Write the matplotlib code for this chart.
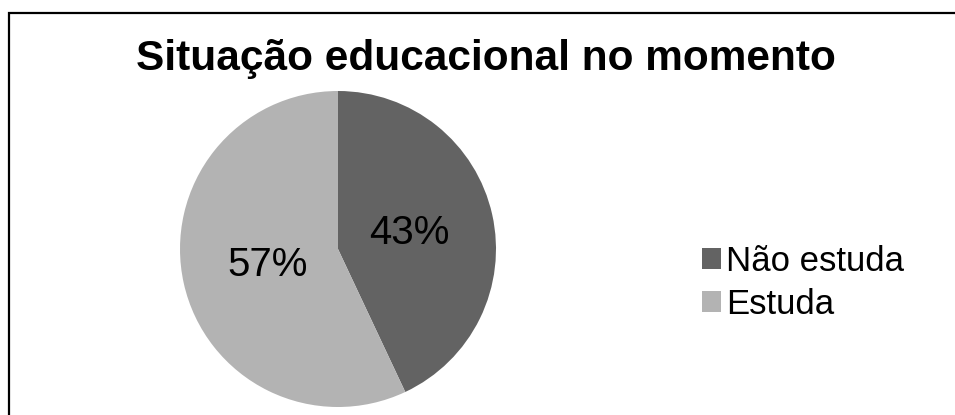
import matplotlib
matplotlib.use('Agg')
import matplotlib.pyplot as plt
from matplotlib.patches import Rectangle

plt.rcParams['font.family'] = ['Liberation Sans', 'DejaVu Sans']

categorias = ['Não estuda', 'Estuda']
percentuais = [43, 57]
cores = ['#636363', '#b3b3b3']
titulo = 'Situação educacional no momento'

W, H = 955, 415
fig = plt.figure(figsize=(W / 100, H / 100), dpi=100)

# moldura do gráfico (cortada à direita e embaixo)
fig.patches.append(Rectangle((8.5 / W, -0.1), 1.1, 1 - 13.5 / H + 0.1,
                             transform=fig.transFigure, fill=False,
                             edgecolor='black', linewidth=1.6))

cx, cy, r = 338, 249, 158
ax = fig.add_axes([(cx - r) / W, (H - cy - r) / H, 2 * r / W, 2 * r / H])
wedges, _, autotexts = ax.pie(percentuais, colors=cores, startangle=90,
                              counterclock=False, autopct='%d%%',
                              pctdistance=0.46, radius=1,
                              textprops={'fontsize': 29, 'color': 'black'})
ax.set_xlim(-1, 1)
ax.set_ylim(-1, 1)
ax.set_aspect('equal')
ax.axis('off')

fig.text(486 / W, 1 - 70 / H, titulo, ha='center', va='baseline',
         fontsize=30.5, fontweight='bold')

fig.legend(wedges, categorias, loc='center left',
           bbox_to_anchor=(702 / W, 1 - 283 / H), frameon=False,
           fontsize=25, handlelength=0.55, handleheight=0.55,
           handletextpad=0.15, labelspacing=0.3, borderpad=0, borderaxespad=0)

fig.savefig('out.png', dpi=100)
